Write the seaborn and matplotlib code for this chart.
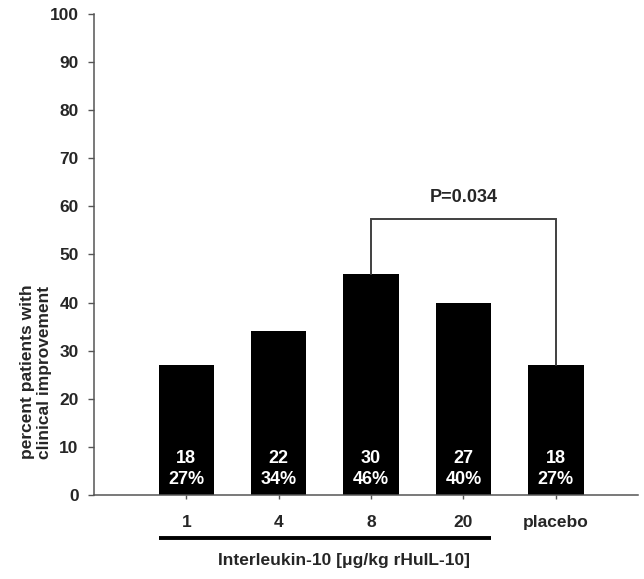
import matplotlib
matplotlib.use("Agg")
import matplotlib.pyplot as plt
import seaborn as sns
import pandas as pd

doses = ["1", "4", "8", "20", "placebo"]
patients_n = [18, 22, 30, 27, 18]
percent_improved = [27, 34, 46, 40, 27]
yticks = [0, 10, 20, 30, 40, 50, 60, 70, 80, 90, 100]
p_value_text = "P=0.034"

sns.set_style("ticks")
plt.rcParams['font.family'] = ['Liberation Sans', 'DejaVu Sans']
plt.rcParams['font.weight'] = 'bold'

df = pd.DataFrame({"dose": doses, "pct": percent_improved})

fig = plt.figure(figsize=(6.44, 5.79), dpi=100)
ax = fig.add_axes([94/644, 1-495/579, (638-94)/644, (495-14)/579])

sns.barplot(data=df, x="dose", y="pct", order=doses, color="black",
            width=0.6, saturation=1, ax=ax, edgecolor="none")

ax.set_xlim(-1.0, 4.89)
ax.set_ylim(0, 100)
ax.set_yticks(yticks)
ax.set_yticklabels([str(t) for t in yticks], fontsize=12.5, fontweight='bold')
ax.set_xticks(range(len(doses)))
ax.set_xticklabels(doses, fontsize=12.5, fontweight='bold')
ax.tick_params(axis='y', length=4, width=1, color='#555555', pad=7)
ax.tick_params(axis='x', length=3, width=1, color='#555555', pad=11.5)
ax.set_xlabel("")
ax.set_ylabel("")
sns.despine(ax=ax)
for s in ["left", "bottom"]:
    ax.spines[s].set_color('#555555')
    ax.spines[s].set_linewidth(1.1)

# labels inside bars
for i, (n, p) in enumerate(zip(patients_n, percent_improved)):
    ax.text(i, 7.6, str(n), color='white', ha='center', va='center',
            fontsize=13, fontweight='bold')
    ax.text(i, 3.2, f"{p}%", color='white', ha='center', va='center',
            fontsize=13, fontweight='bold')

# significance bracket between 8 and placebo
bx = [2, 2, 4, 4]
by = [percent_improved[2], 57.4, 57.4, percent_improved[4]]
ax.plot(bx, by, color='#404040', lw=1.4, solid_joinstyle='miter')
ax.text(3, 61.8, p_value_text, ha='center', va='center', fontsize=13,
        fontweight='bold')

# underline for IL-10 doses
ax.plot([-0.3, 3.3], [-8.9, -8.9], color='black', lw=2.8, clip_on=False,
        solid_capstyle='butt')
ax.text(1.71, -13.6, "Interleukin-10 [μg/kg rHuIL-10]", ha='center',
        va='center', fontsize=12.5, fontweight='bold', clip_on=False)

fig.text(36/644, 1-372/579, "percent patients with\nclinical improvement",
         rotation=90, ha='center', va='center', fontsize=12.5,
         fontweight='bold', linespacing=1.2)

fig.savefig("out.png", dpi=100, facecolor='white')
